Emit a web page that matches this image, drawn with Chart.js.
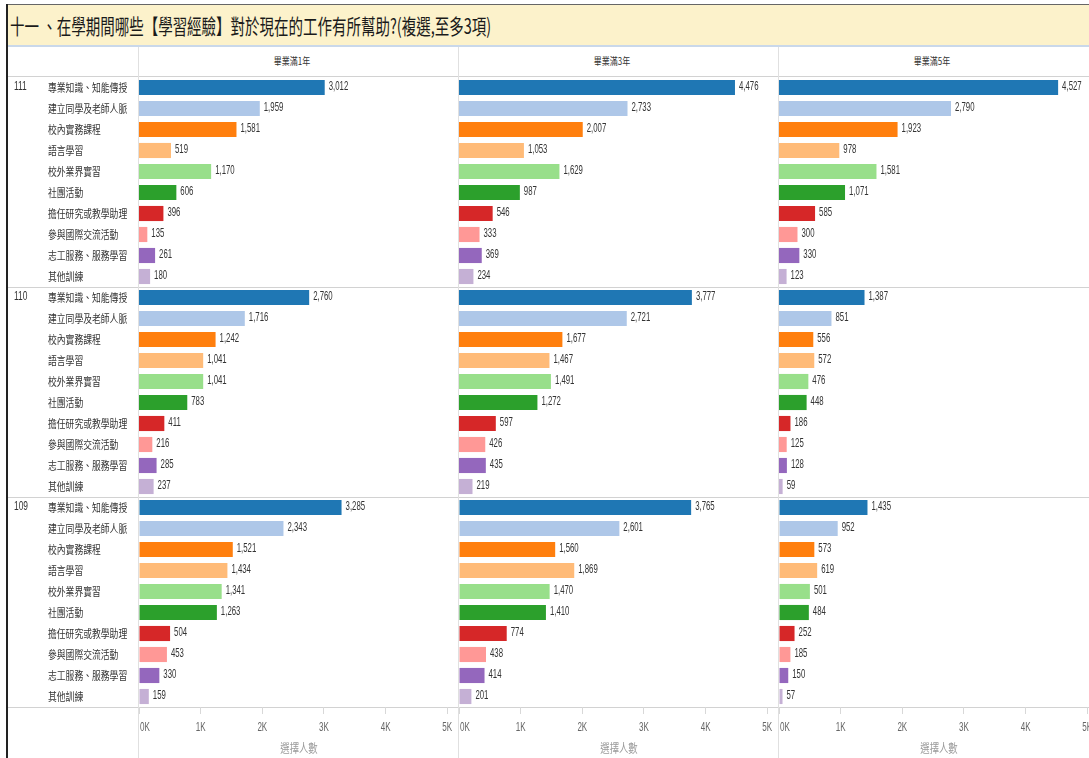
<!DOCTYPE html>
<html lang="zh-Hant">
<head>
<meta charset="utf-8">
<title>學習經驗</title>
<script src="https://cdn.jsdelivr.net/npm/chart.js@4.4.1/dist/chart.umd.min.js"></script>
<style>
  html, body { margin: 0; padding: 0; }
  body { width: 1089px; height: 758px; overflow: hidden; position: relative; background: #fff;
         font-family: 'Noto Sans CJK TC', 'Noto Sans', sans-serif; }
  .abs { position: absolute; }
  .band { left: 8px; top: 4px; width: 1081px; height: 41px; background: #fcf2cb; border-top: 1px solid #666; }
  .band span { position: absolute; left: 2px; top: 10px; font-size: 21px; line-height: 1; color: #1a1a1a;
               white-space: nowrap; transform: scaleX(.69); transform-origin: left top; }
  .edge { left: 6px; top: 4px; width: 2px; height: 754px; background: #222; }
  .hline { left: 8px; width: 1081px; height: 1px; background: #d2d2d2; }
  .vline { top: 47px; width: 1px; height: 711px; background: #e0e0e0; }
  .head { top: 56px; font-size: 10px; line-height: 1; color: #333; white-space: nowrap;
          transform: translateX(-50%) scaleX(.8); }
</style>
</head>
<body>
<div class="abs band"><span>十一 、在學期間哪些【學習經驗】對於現在的工作有所幫助?(複選,至多3項)</span></div>
<div class="abs edge"></div>
<div class="abs hline" style="top:45px;height:2px;background:#c9d8ea"></div>
<div class="abs hline" style="top:76px"></div>
<div class="abs hline" style="top:287px"></div>
<div class="abs hline" style="top:497px"></div>
<div class="abs hline" style="top:707px"></div>
<div class="abs vline" style="left:138px"></div>
<div class="abs vline" style="left:458px"></div>
<div class="abs vline" style="left:778px"></div>
<div id="heads"></div>
<div id="panels"></div>

<script>
// 學習經驗項目
const categories = ['專業知識、知能傳授', '建立同學及老師人脈', '校內實務課程', '語言學習', '校外業界實習',
  '社團活動', '擔任研究或教學助理', '參與國際交流活動', '志工服務、服務學習', '其他訓練'];
const years = ['111', '110', '109'];
const periods = ['畢業滿1年', '畢業滿3年', '畢業滿5年'];
const xTicks = [0, 1000, 2000, 3000, 4000, 5000];

// 選擇人數
const y111_1 = [3012, 1959, 1581, 519, 1170, 606, 396, 135, 261, 180];
const y111_3 = [4476, 2733, 2007, 1053, 1629, 987, 546, 333, 369, 234];
const y111_5 = [4527, 2790, 1923, 978, 1581, 1071, 585, 300, 330, 123];
const y110_1 = [2760, 1716, 1242, 1041, 1041, 783, 411, 216, 285, 237];
const y110_3 = [3777, 2721, 1677, 1467, 1491, 1272, 597, 426, 435, 219];
const y110_5 = [1387, 851, 556, 572, 476, 448, 186, 125, 128, 59];
const y109_1 = [3285, 2343, 1521, 1434, 1341, 1263, 504, 453, 330, 159];
const y109_3 = [3765, 2601, 1560, 1869, 1470, 1410, 774, 438, 414, 201];
const y109_5 = [1435, 952, 573, 619, 501, 484, 252, 185, 150, 57];

const colors = ['#1f77b4', '#aec7e8', '#ff7f0e', '#ffbb78', '#98df8a',
  '#2ca02c', '#d62728', '#ff9896', '#9467bd', '#c5b0d5'];

const grid = [
  [y111_1, y111_3, y111_5],
  [y110_1, y110_3, y110_5],
  [y109_1, y109_3, y109_5],
];

const PLOT_LEFT = [139, 459, 779];
const PLOT_W = 320;
const GROUP_TOP = 77;
const GROUP_H = 210;
const AXIS_H = 50;
const X_MAX = 5190;

const NUM_FONT = '"Liberation Sans", Arial, sans-serif';
const CJK_FONT = '"Noto Sans CJK TC", sans-serif';

// tableau-ish narrow text
function narrowText(ctx, text, x, y, sx, align) {
  ctx.save();
  ctx.translate(x, y);
  ctx.scale(sx, 1);
  ctx.textAlign = align || 'left';
  ctx.fillText(text, 0, 0);
  ctx.restore();
}

const tableauText = {
  id: 'tableauText',
  afterDatasetsDraw(chart, args, opts) {
    const ctx = chart.ctx;
    const ds = chart.data.datasets[0];
    const meta = chart.getDatasetMeta(0);
    ctx.save();
    ctx.textBaseline = 'middle';
    ctx.fillStyle = '#333';
    ctx.font = '13px ' + NUM_FONT;
    meta.data.forEach((bar, i) => {
      narrowText(ctx, ds.data[i].toLocaleString('en-US'), bar.x + 4, bar.y - 1, 0.6);
    });
    if (opts.rowLabels) {
      const ys = chart.scales.y;
      ctx.font = '11px ' + CJK_FONT;
      chart.data.labels.forEach((lab, i) => narrowText(ctx, lab, 40, ys.getPixelForValue(i), 0.8));
      ctx.font = '12px ' + NUM_FONT;
      narrowText(ctx, opts.year, 6, ys.getPixelForValue(0) - 1, 0.7);
    }
    if (opts.axis) {
      const xs = chart.scales.x;
      ctx.fillStyle = '#666';
      ctx.font = '13px ' + NUM_FONT;
      xs.ticks.forEach((t, i) => {
        const px = xs.getPixelForValue(t.value);
        narrowText(ctx, t.value / 1000 + 'K', i === 0 ? px + 1 : px, xs.top + 20, 0.62, i === 0 ? 'left' : 'center');
      });
      ctx.fillStyle = '#9a9a9a';
      ctx.font = '12px ' + CJK_FONT;
      narrowText(ctx, '選擇人數', (xs.left + xs.right) / 2, xs.top + 41, 0.78, 'center');
    }
    ctx.restore();
  }
};

// column headers
const heads = document.getElementById('heads');
periods.forEach((p, c) => {
  const d = document.createElement('div');
  d.className = 'abs head';
  d.style.left = (PLOT_LEFT[c] + 153) + 'px';
  d.textContent = p;
  heads.appendChild(d);
});

const panels = document.getElementById('panels');
grid.forEach((row, g) => {
  row.forEach((values, c) => {
    const left = c === 0 ? 8 : PLOT_LEFT[c] - 10;
    const yWidth = PLOT_LEFT[c] - left;
    const withAxis = g === grid.length - 1;
    const box = document.createElement('div');
    box.className = 'abs';
    box.style.left = left + 'px';
    box.style.top = (GROUP_TOP + g * GROUP_H) + 'px';
    box.style.width = (yWidth + PLOT_W) + 'px';
    box.style.height = (GROUP_H + (withAxis ? AXIS_H : 0)) + 'px';
    const canvas = document.createElement('canvas');
    box.appendChild(canvas);
    panels.appendChild(box);

    new Chart(canvas, {
      type: 'bar',
      data: {
        labels: categories,
        datasets: [{
          data: values,
          backgroundColor: colors,
          borderWidth: 0,
          barPercentage: 0.72,
          categoryPercentage: 1,
        }],
      },
      options: {
        indexAxis: 'y',
        responsive: true,
        maintainAspectRatio: false,
        animation: false,
        layout: { padding: 0 },
        plugins: {
          legend: { display: false },
          tooltip: { enabled: false },
          tableauText: { rowLabels: c === 0, year: years[g], axis: withAxis },
        },
        scales: {
          y: {
            grid: { display: false },
            border: { display: false },
            ticks: { display: false },
            afterFit: (s) => { s.width = yWidth; },
          },
          x: {
            type: 'linear',
            min: 0,
            max: X_MAX,
            display: withAxis,
            border: { display: false },
            grid: { drawOnChartArea: false, tickLength: 7, color: '#d8d8d8' },
            ticks: { display: false },
            afterBuildTicks: (s) => { s.ticks = xTicks.map((v) => ({ value: v })); },
            afterFit: (s) => { s.height = withAxis ? AXIS_H : 0; },
          },
        },
      },
      plugins: [tableauText],
    });
  });
});
</script>
</body>
</html>
